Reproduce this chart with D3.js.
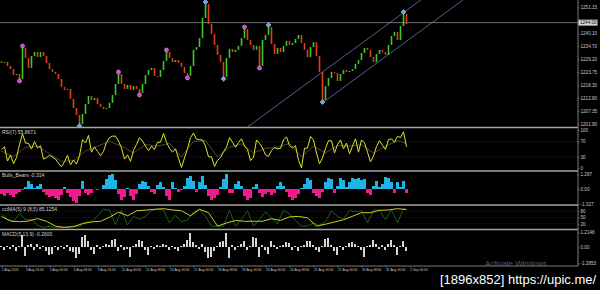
<!DOCTYPE html>
<html>
<head>
<meta charset="utf-8">
<script src="https://cdn.jsdelivr.net/npm/d3@7"></script>
<style>
  body { margin: 0; background: #000; }
  svg { display: block; background: #000; }
  .axis text { fill: #c8c8c8; font-family: "Liberation Sans", Arial, sans-serif; font-size: 4.6px; }
  .axis line { stroke: #9a9a9a; stroke-width: 0.6; }
  .axis path { display: none; }
  .plabel { fill: #d0d0d0; font-family: "Liberation Sans", Arial, sans-serif; font-size: 5px; }
</style>
</head>
<body>
<div id="chart"></div>
<script>
// Close of each candle (open = previous close)
var closes = [1227.6,1228.0,1226.3,1225.0,1222.5,1222.9,1220.8,1233.9,1229.7,1225.5,
  1230.5,1232.2,1230.1,1232.2,1230.5,1227.6,1225.0,1223.8,1222.9,1220.8,
  1217.4,1216.2,1216.6,1212.4,1208.5,1205.6,1201.8,1206.0,1210.2,1213.6,
  1211.9,1212.8,1210.2,1209.0,1208.1,1208.5,1210.7,1214.0,1218.7,1222.9,
  1218.7,1216.6,1218.3,1216.2,1217.8,1216.6,1214.9,1218.7,1222.5,1224.6,
  1225.5,1222.1,1221.7,1224.6,1228.4,1232.2,1229.7,1228.0,1228.8,1227.6,
  1225.9,1223.3,1222.1,1226.3,1233.1,1234.3,1238.1,1246.6,1252.5,1244.1,
  1239.8,1235.2,1231.0,1228.0,1221.7,1229.7,1233.5,1232.2,1233.1,1234.8,
  1238.1,1241.9,1237.3,1235.2,1233.1,1234.8,1226.3,1237.3,1239.4,1242.8,
  1235.6,1231.4,1233.9,1232.2,1234.8,1236.9,1235.2,1236.0,1237.7,1239.4,
  1236.0,1233.1,1230.1,1234.3,1236.4,1230.5,1223.8,1211.9,1217.8,1221.2,
  1223.8,1223.3,1220.0,1222.9,1224.6,1223.8,1224.2,1225.0,1227.2,1228.8,
  1231.8,1233.9,1233.1,1230.1,1228.0,1231.4,1233.1,1232.2,1231.0,1235.2,
  1239.0,1240.7,1237.3,1243.2,1248.3,1244.0];
var firstOpen = 1228.4;
var bidPrice = 1244.00;
var priceTicks = [1251.15, 1240.10, 1234.70, 1229.20, 1223.75, 1218.30, 1212.80, 1207.35, 1201.90];

// fractal / swing markers (candle indexes)
var magentaHighs = [7, 39, 55, 81];
var magentaLows = [6, 46, 62, 86];
var cyanHighs = [68, 89, 134];
var cyanLows = [26, 74, 107];

// channel lines [candle index, price]
var channelUpper = [[82, 1200.5], [142, 1256.3]];
var channelLower = [[107, 1210.7], [157, 1257.2]];

// RSI panel
var rsiValues = [49,56,19,35,12,28,62,90,66,65,
  50,70,53,59,24,28,34,29,24,13,
  4,17,34,9,22,11,33,75,66,86,
  42,56,44,33,44,68,80,84,84,71,
  53,24,35,18,47,62,80,71,58,46,
  58,49,68,68,91,68,52,42,51,26,
  2,27,51,80,92,76,75,74,58,30,
  30,5,21,28,43,55,80,68,55,67,
  77,58,49,20,29,74,65,53,35,31,
  47,54,51,52,74,82,59,53,59,21,
  1,52,53,83,74,40,12,27,52,72,
  72,40,62,74,51,66,38,58,77,42,
  74,66,42,17,32,57,72,60,49,75,
  77,68,84,80,95,56];
var rsiSignal = [45,30,55,58,38,18,20,45,58,70,58,40,62,58,65,30,70,72,30,55,
  64,40,52,55,65,30,58,40,60,58,62,40,58,72,65];
var rsiLevels = [70, 30];
var rsiTicks = [100, 70, 30, 0];

// Bulls/Bears histogram panel
var bbValues = [-0.4,-0.6,-0.3,-0.5,-0.7,-0.4,-0.2,-0.1,0.2,0.74,
  0.5,0.1,0.3,0.47,-0.2,-0.5,-0.7,-0.6,-0.8,-0.9,
  -0.5,0.2,-0.3,-0.7,-1.0,-1.17,-0.6,0.74,-0.3,-0.5,
  -0.3,0,-0.1,0,0.4,0.9,1.2,1.29,0.8,-0.4,
  -0.9,-0.7,0.1,-0.6,-0.9,-0.4,0.5,0.74,0.6,0.3,
  -0.2,-0.4,0.4,0.6,0.2,-0.6,-0.9,0.6,0.1,-0.2,
  -0.1,0.3,1.0,1.15,0.7,-0.2,0.6,1.15,0.4,-0.6,
  -0.9,-0.8,-0.5,0.2,0.9,1.29,-0.3,-0.35,0.5,0.74,
  0.3,-0.6,-0.9,-0.8,0.2,0.47,-0.3,-0.63,-0.4,-0.2,
  -0.49,-0.3,0.3,0.6,0.3,-0.2,-0.7,-0.9,-0.8,-0.4,
  0.1,0.5,1.0,0.8,-0.3,-0.6,-0.76,-0.2,0.6,1.0,
  0.9,-0.35,0.3,1.0,0.8,0.2,0.6,1.0,0.9,1.0,
  0.8,0.9,-0.3,-0.49,0.3,0.74,0.2,0.5,1.1,1.0,
  0.6,-0.3,0.6,0.2,0.74,-0.314];
var bbTicks = [1.287, 0, -1.327];
var bbTickLabels = ["1.287", "0.00", "-1.327"];

// CCI-MA panel (yellow every 3rd candle, green every 2nd candle)
var cciSlow = [55,33,30,33,45,32,9,3,6,21,29,32,51,76,58,82,
  85,89,92,86,82,58,89,73,9,24,36,32,32,32,
  44,36,53,55,48,9,18,29,39,56,73,73,84,86,92,88];
var cciFast = [70,42,32,68,41,39,14,2,9,2,2,6,9,9,27,29,58,89,85,17,84,14,55,
  42,55,84,90,85,24,61,30,39,76,89,55,9,9,9,85,9,42,82,9,41,
  77,47,21,85,66,36,9,9,24,12,30,82,55,42,84,77,82,24,87,86,39,87,24,92,
  88];
var cciLevels = [80, 50, 20];
var cciTicks = [80, 50, 20];

// MACD-like histogram panel
var macdValues = [0.1,-0.2,0.15,-0.1,0.2,-0.3,0.1,1.0,-0.7,0.2,
  0.3,-0.2,0.25,-0.15,0.1,-0.3,-0.6,-0.5,0.1,-0.2,
  0.15,-0.1,0.2,-0.3,-0.4,-0.89,-0.5,0.8,1.0,0.5,
  -0.2,-0.5,0.2,-0.1,0.15,0.3,0.2,0.6,0.7,-0.3,
  0.2,-0.2,-0.1,-0.76,0.1,0.3,0.63,0.5,-0.2,-0.6,
  0.1,-0.1,0.2,0.15,0.3,0.2,-0.2,0.1,-0.15,-0.3,
  0.1,0.3,0.63,1.14,0.4,0.2,-0.1,0.3,-0.4,-0.89,
  -0.8,-0.3,0.1,0.4,0.5,1.14,-0.89,0.2,-0.2,0.1,
  0.3,0.5,-0.2,0.1,0.8,0.76,-0.76,0.2,-0.2,-0.5,
  0.5,0.2,-0.1,0.1,0.2,0.4,0.38,-0.2,0.1,-0.3,
  0.1,0.2,0.5,0.5,0.2,-0.2,-0.4,0.1,0.7,0.76,
  0.2,-0.3,-0.6,0.1,-0.2,0.1,0.38,0.4,0.3,0.1,
  -0.2,-0.76,0.1,0.2,0.63,0.3,-0.1,0.2,-0.2,0.3,
  0.63,0.2,-0.63,0.1,0.5,-0.26];
var macdTicks = [1.2148, 0, -1.2853];
var macdTickLabels = ["1.2148", "0.00", "-1.2853"];

var panelTitles = ["RSI(7) 55.8671", "Bulls_Bears -0.314", "cciMA(5) 9 (8,5) 85.1254", "MACD(5,13,9) -0.2600"];
var dateLabels = ["2 Aug 2010","3 Aug 16:00","5 Aug 00:00","6 Aug 08:00","9 Aug 16:00","11 Aug 00:00",
  "12 Aug 08:00","13 Aug 16:00","17 Aug 00:00","18 Aug 08:00","19 Aug 16:00","23 Aug 00:00",
  "24 Aug 08:00","25 Aug 16:00","27 Aug 00:00","30 Aug 08:00","31 Aug 16:00","2 Sep 00:00"];

var W = 600, H = 290, axisX = 578;
var svg = d3.select("#chart").append("svg").attr("width", W).attr("height", H);

var x = d3.scaleLinear().domain([-0.5, 192.1667]).range([0, axisX]);
var yPrice = d3.scaleLinear().domain([1200.5, 1254.2]).range([127, 0]);
var yRsi = d3.scaleLinear().domain([0, 100]).range([168.3, 130]);
var yBB = d3.scaleLinear().domain([-1.327, 1.287]).range([204.5, 174.5]);
var yCci = d3.scaleLinear().domain([0, 100]).range([228, 207]);
var yMacd = d3.scaleLinear().domain([-1.2853, 1.2148]).range([263.3, 232.3]);

// clip for main chart
svg.append("clipPath").attr("id", "mainClip")
  .append("rect").attr("x", 0).attr("y", 0).attr("width", axisX).attr("height", 127);

// bid line
svg.append("line")
  .attr("x1", 0).attr("x2", axisX)
  .attr("y1", yPrice(bidPrice) - 1.5).attr("y2", yPrice(bidPrice) - 1.5)
  .attr("stroke", "#8a8a8a").attr("stroke-width", 0.8);

// channel lines
var main = svg.append("g").attr("clip-path", "url(#mainClip)");
[channelUpper, channelLower].forEach(function(c) {
  main.append("line")
    .attr("x1", x(c[0][0])).attr("y1", yPrice(c[0][1]))
    .attr("x2", x(c[1][0])).attr("y2", yPrice(c[1][1]))
    .attr("stroke", "#5d6a9c").attr("stroke-width", 0.9);
});

// candles
function openOf(i) { return i == 0 ? firstOpen : closes[i - 1]; }
main.selectAll(".candle")
  .data(closes)
  .enter().append("rect")
  .attr("class", "candle")
  .attr("x", (d, i) => x(i) - 0.8)
  .attr("width", 1.6)
  .attr("y", (d, i) => yPrice(Math.max(openOf(i), d)))
  .attr("height", (d, i) => Math.max(1, Math.abs(yPrice(openOf(i)) - yPrice(d))))
  .attr("fill", (d, i) => d >= openOf(i) ? "#3cc82a" : "#e0401c");

// markers
function dots(idx, dy) {
  main.selectAll(null).data(idx).enter().append("circle")
    .attr("cx", d => x(d))
    .attr("cy", d => yPrice(closes[d]) + dy)
    .attr("r", 2)
    .attr("fill", "#d43fd4").attr("stroke", "#f4a0f4").attr("stroke-width", 0.6);
}
dots(magentaHighs, -2);
dots(magentaLows, 2);
function diamonds(idx, dy) {
  main.selectAll(null).data(idx).enter().append("path")
    .attr("d", d3.symbol(d3.symbolDiamond2, 16))
    .attr("transform", d => `translate(${x(d)},${yPrice(closes[d]) + dy})`)
    .attr("fill", "#62a8f0").attr("stroke", "#b9dcff").attr("stroke-width", 0.5);
}
diamonds(cyanHighs, -2);
diamonds(cyanLows, 2);

// RSI panel
rsiLevels.forEach(function(v) {
  svg.append("line").attr("x1", 0).attr("x2", axisX)
    .attr("y1", yRsi(v)).attr("y2", yRsi(v))
    .attr("stroke", "#3b2b4b").attr("stroke-dasharray", "1,1").attr("stroke-width", 0.6);
});
var signalIdx = d3.range(0, 133, 4).concat([135]);
svg.append("path")
  .datum(rsiSignal)
  .attr("fill", "none").attr("stroke", "#5c5c48").attr("stroke-width", 0.8)
  .attr("d", d3.line().x((d, i) => x(signalIdx[i])).y(d => yRsi(d)));
svg.append("path")
  .datum(rsiValues)
  .attr("fill", "none").attr("stroke", "#e2e228").attr("stroke-width", 1)
  .attr("d", d3.line().x((d, i) => x(i)).y(d => yRsi(d)));

// Bulls/Bears histogram
svg.append("g").attr("shape-rendering", "crispEdges")
  .selectAll("rect")
  .data(bbValues)
  .enter().append("rect")
  .attr("x", (d, i) => x(i) - 1.5)
  .attr("width", 3.2)
  .attr("y", d => yBB(Math.max(0, d)))
  .attr("height", d => Math.abs(yBB(d) - yBB(0)))
  .attr("fill", d => d >= 0 ? "#1fb4e6" : "#ee1c8e");

// CCI-MA panel
cciLevels.forEach(function(v) {
  svg.append("line").attr("x1", 0).attr("x2", axisX)
    .attr("y1", yCci(v)).attr("y2", yCci(v))
    .attr("stroke", "#2c2438").attr("stroke-dasharray", "1,1").attr("stroke-width", 0.6);
});
var fastIdx = d3.range(0, 135, 2).concat([135]);
var slowIdx = d3.range(0, 136, 3);
svg.append("path")
  .datum(cciFast)
  .attr("fill", "none").attr("stroke", "#1d6b1d").attr("stroke-width", 0.9)
  .attr("d", d3.line().x((d, i) => x(fastIdx[i])).y(d => yCci(d)));
svg.append("path")
  .datum(cciSlow)
  .attr("fill", "none").attr("stroke", "#d0cc22").attr("stroke-width", 1)
  .attr("d", d3.line().x((d, i) => x(slowIdx[i])).y(d => yCci(d)));

// MACD-like histogram
svg.append("g").attr("shape-rendering", "crispEdges")
  .selectAll("rect")
  .data(macdValues)
  .enter().append("rect")
  .attr("x", (d, i) => x(i) - 1)
  .attr("width", 2)
  .attr("y", d => yMacd(Math.max(0, d)))
  .attr("height", d => Math.max(0.5, Math.abs(yMacd(d) - yMacd(0))))
  .attr("fill", "#d6d6d6");

// panel separators
[127.5, 171, 205, 229.5].forEach(function(y) {
  svg.append("line").attr("x1", 0).attr("x2", axisX)
    .attr("y1", y).attr("y2", y)
    .attr("stroke", "#a4a4a4").attr("stroke-width", 1.5);
});
svg.append("line").attr("x1", 0).attr("x2", axisX).attr("y1", 266).attr("y2", 266)
  .attr("stroke", "#9a9a9a").attr("stroke-width", 0.8);
svg.append("line").attr("x1", axisX).attr("x2", axisX).attr("y1", 0).attr("y2", 266)
  .attr("stroke", "#9a9a9a").attr("stroke-width", 0.8);

// panel titles
[131, 174, 208, 233].forEach(function(y, i) {
  svg.append("text").attr("class", "plabel").attr("x", 2).attr("y", y + 2.5).text(panelTitles[i]);
});

// right axes
function rightAxis(scale, ticks, fmt) {
  svg.append("g").attr("class", "axis")
    .attr("transform", `translate(${axisX},0)`)
    .call(d3.axisRight(scale).tickValues(ticks).tickSize(1.5).tickSizeOuter(0).tickPadding(1).tickFormat(fmt));
}
rightAxis(yPrice, priceTicks, d3.format(".2f"));
rightAxis(yRsi, rsiTicks, d3.format("d"));
rightAxis(yBB, bbTicks, (d, i) => bbTickLabels[i]);
rightAxis(yCci, cciTicks, d3.format("d"));
rightAxis(yMacd, macdTicks, (d, i) => macdTickLabels[i]);

// bid price label
svg.append("rect").attr("x", axisX + 0.5).attr("y", yPrice(bidPrice) - 4.5)
  .attr("width", 19).attr("height", 6).attr("fill", "#d8d8d8");
svg.append("text").attr("x", axisX + 2).attr("y", yPrice(bidPrice) + 0.1)
  .attr("font-family", "Liberation Sans, Arial, sans-serif").attr("font-size", 4.6)
  .attr("fill", "#000").text(d3.format(".2f")(bidPrice));

// time axis
var dateIdx = d3.range(0, 137, 8);
var xAxis = svg.append("g").attr("class", "axis")
  .attr("transform", "translate(0,266)")
  .call(d3.axisBottom(x).tickValues(dateIdx).tickSize(1.5).tickSizeOuter(0).tickPadding(1)
    .tickFormat((d, i) => dateLabels[i]));
xAxis.selectAll("text").attr("text-anchor", "start").style("font-size", "3.3px");

// overlays
svg.append("text").attr("x", 485).attr("y", 265.5)
  .attr("font-family", "Liberation Sans, Arial, sans-serif").attr("font-size", 8)
  .attr("fill", "#5c5c5c").attr("textLength", 62).attr("lengthAdjust", "spacingAndGlyphs")
  .text("Activate Windows");
svg.append("text").attr("x", 440).attr("y", 284)
  .attr("font-family", "Liberation Sans, Arial, sans-serif").attr("font-size", 13)
  .attr("fill", "#ffffff")
  .text("[1896x852] https://upic.me/");
</script>
</body>
</html>
